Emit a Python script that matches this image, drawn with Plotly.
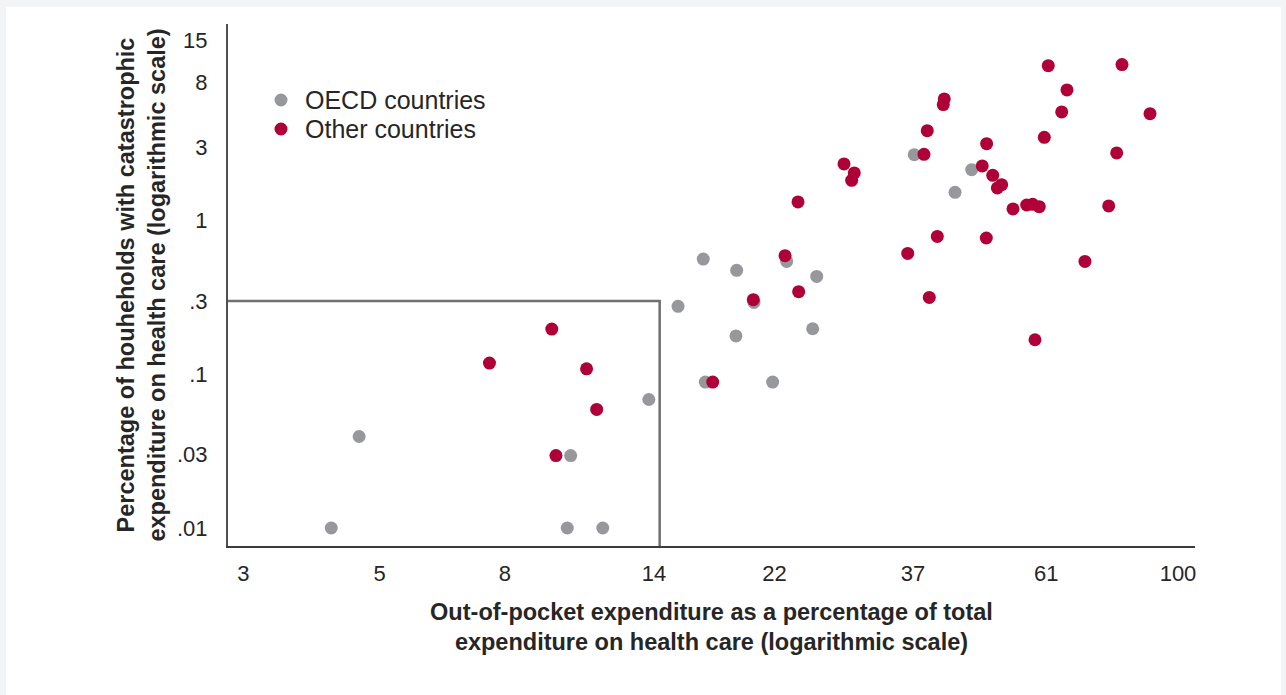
import plotly.graph_objects as go

# ---- data ----
oecd_x = [4.17, 4.63, 10.11, 10.24, 11.55, 13.73, 15.32, 16.84, 16.97, 19.04,
          19.09, 20.37, 21.85, 23.03, 25.39, 25.78, 37.17, 43.32, 46.11]
oecd_y = [0.01, 0.0394, 0.01, 0.0296, 0.01, 0.0686, 0.277, 0.563, 0.0891, 0.178,
          0.475, 0.294, 0.0891, 0.543, 0.198, 0.434, 2.69, 1.529, 2.148]

other_x = [7.55, 9.54, 9.69, 10.87, 11.29, 17.45, 20.32, 22.89, 24.03, 24.09,
           28.56, 29.68, 29.39, 36.27, 38.55, 39.03, 39.33, 40.53, 41.45, 41.60,
           47.97, 48.77, 48.71, 49.90, 50.77, 51.60, 53.84, 56.68, 57.97, 58.47,
           59.42, 60.55, 61.46, 64.64, 65.93, 70.53, 77.10, 79.45, 81.05, 90.03]
other_y = [0.1184, 0.1972, 0.0296, 0.1087, 0.0591, 0.0891, 0.306, 0.592, 1.324, 0.345,
           2.34, 2.045, 1.83, 0.6125, 2.702, 3.855, 0.3167, 0.79, 5.693, 6.2,
           2.271, 3.172, 0.7715, 1.972, 1.633, 1.716, 1.192, 1.265, 1.277, 0.168,
           1.234, 3.487, 10.21, 5.102, 7.096, 0.543, 1.247, 2.759, 10.37, 4.974]

x_ticks = [3, 5, 8, 14, 22, 37, 61, 100]
x_tick_labels = ["3", "5", "8", "14", "22", "37", "61", "100"]
y_ticks = [0.01, 0.03, 0.1, 0.3, 1, 3, 8, 15]
y_tick_labels = [".01", ".03", ".1", ".3", "1", "3", "8", "15"]

series_names = ["OECD countries", "Other countries"]

box_x = 14.3   # threshold on out-of-pocket share
box_y = 0.3    # threshold on catastrophic expenditure

x_range_log = [0.4519, 2.0277]
y_range_log = [-2.117, 1.280]

GRAY = "#97989c"
RED = "#b00038"
TXT = "#262626"
FONT = "Liberation Sans, Arial, Helvetica, sans-serif"

fig = go.Figure()

x_left = 10 ** x_range_log[0]
y_bottom = 10 ** y_range_log[0]
fig.add_trace(go.Scatter(
    x=[x_left, box_x, box_x], y=[box_y, box_y, y_bottom],
    mode="lines", line=dict(color="#707072", width=2.5),
    showlegend=False, hoverinfo="skip"))

fig.add_trace(go.Scatter(
    x=oecd_x, y=oecd_y, mode="markers", name=series_names[0],
    marker=dict(color=GRAY, size=13, line=dict(width=0)), showlegend=False))
fig.add_trace(go.Scatter(
    x=other_x, y=other_y, mode="markers", name=series_names[1],
    marker=dict(color=RED, size=13, line=dict(width=0)), showlegend=False))

# custom legend (inside the plot, top left)
legend_y = [0.8544, 0.7989]
legend_colors = [GRAY, RED]
shapes = [dict(type="rect", xref="paper", yref="paper",
               x0=-0.2296, x1=1.0889, y0=-0.35, y1=1.0326,
               fillcolor="white", line=dict(width=0), layer="below")]
annotations = []
for name, col, ly in zip(series_names, legend_colors, legend_y):
    shapes.append(dict(type="circle", xref="paper", yref="paper",
                       xsizemode="pixel", ysizemode="pixel",
                       xanchor=0.0548, yanchor=ly,
                       x0=-6.5, x1=6.5, y0=-6.5, y1=6.5,
                       fillcolor=col, line=dict(width=0)))
    annotations.append(dict(xref="paper", yref="paper", x=0.0776, y=ly,
                            xanchor="left", yanchor="middle", showarrow=False,
                            text=name, font=dict(size=25, color=TXT)))

fig.update_layout(
    width=1286, height=695,
    margin=dict(l=228, r=91, t=24, b=149),
    paper_bgcolor="#f3f4f6",
    plot_bgcolor="white",
    font=dict(family=FONT, color=TXT),
    showlegend=False,
    shapes=shapes,
    annotations=annotations,
)

fig.update_xaxes(
    type="log", range=x_range_log,
    tickvals=x_ticks, ticktext=x_tick_labels,
    showgrid=False, zeroline=False,
    showline=True, linecolor="#3c3c3c", linewidth=2,
    ticks="", ticklabelstandoff=7,
    tickfont=dict(size=22, color=TXT),
    title=dict(text="<b>Out-of-pocket expenditure as a percentage of total<br>expenditure on health care (logarithmic scale)</b>",
               font=dict(size=23.5, color=TXT), standoff=18),
)
fig.update_yaxes(
    type="log", range=y_range_log,
    tickvals=y_ticks, ticktext=y_tick_labels,
    showgrid=False, zeroline=False,
    showline=True, linecolor="#505050", linewidth=2,
    ticks="", ticklabelstandoff=14,
    tickfont=dict(size=22, color=TXT),
    title=dict(text="<b>Percentage of houheholds with catastrophic<br>expenditure on health care (logarithmic scale)</b>",
               font=dict(size=23.5, color=TXT), standoff=5),
)

fig.write_html("out.html",
               config={"displayModeBar": False},
               post_script="document.body.style.margin='0';document.body.style.overflow='hidden';")
